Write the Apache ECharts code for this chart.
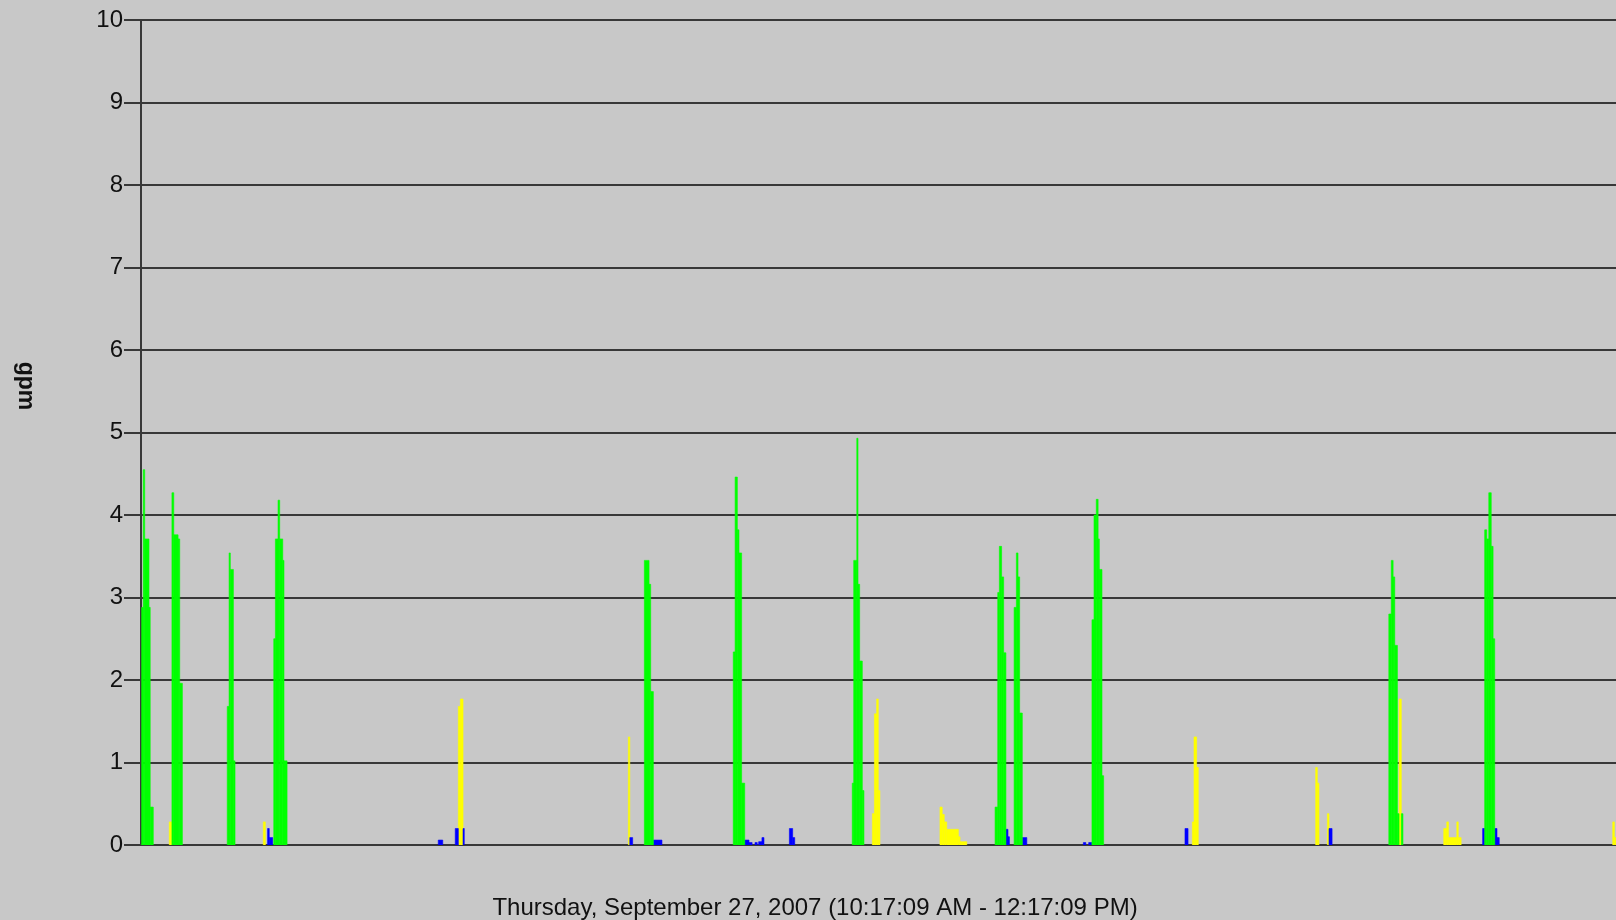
<!DOCTYPE html>
<html>
<head>
<meta charset="utf-8">
<title>gpm</title>
<script src="https://cdn.jsdelivr.net/npm/echarts@6/dist/echarts.min.js"></script>
<style>
  html, body { margin: 0; padding: 0; background: #c8c8c8; }
  #chart { width: 1616px; height: 920px; }
</style>
</head>
<body>
<div id="chart"></div>
<script>
// flow samples: [start sec, end sec, gpm], seconds after 10:17:09 AM
var greenFlow = [
  [3, 11, 2.88], [11, 18, 4.55], [18, 39, 3.71], [39, 45, 2.88], [45, 60, 0.46],
  [151, 160, 4.27], [160, 181, 3.76], [181, 189, 3.71], [189, 202, 1.96],
  [421, 430, 1.68], [430, 436, 3.54], [436, 451, 3.34], [451, 459, 1.02],
  [648, 656, 2.5], [656, 669, 3.71], [669, 677, 4.18], [677, 692, 3.71], [692, 698, 3.45], [698, 713, 1.02],
  [2457, 2480, 3.45], [2480, 2488, 3.16], [2488, 2501, 1.86],
  [2891, 2900, 2.34], [2900, 2911, 4.46], [2911, 2919, 3.82], [2919, 2932, 3.54], [2932, 2947, 0.75],
  [3472, 3479, 0.75], [3479, 3494, 3.45], [3494, 3500, 4.93], [3500, 3508, 3.16], [3508, 3521, 2.23], [3521, 3529, 0.66],
  [4169, 4182, 0.46], [4182, 4190, 3.06], [4190, 4201, 3.62], [4201, 4211, 3.25], [4211, 4222, 2.33],
  [4262, 4273, 2.88], [4273, 4281, 3.54], [4281, 4289, 3.25], [4289, 4302, 1.6],
  [4642, 4652, 2.73], [4652, 4663, 4.0], [4663, 4672, 4.19], [4672, 4678, 3.71], [4678, 4691, 3.34], [4691, 4699, 0.84],
  [6091, 6103, 2.8], [6103, 6112, 3.45], [6112, 6120, 3.25], [6120, 6133, 2.42], [6133, 6141, 0.38], [6152, 6160, 0.38],
  [6559, 6569, 3.82], [6569, 6579, 3.71], [6579, 6591, 4.27], [6591, 6600, 3.62], [6600, 6608, 2.5]
];
var yellowFlow = [
  [138, 151, 0.28],
  [597, 607, 0.28],
  [1549, 1559, 1.68], [1559, 1572, 1.77],
  [2379, 2386, 1.31],
  [3570, 3580, 0.38], [3580, 3591, 1.59], [3591, 3599, 1.77], [3599, 3607, 0.66],
  [3900, 3911, 0.46], [3911, 3921, 0.37], [3921, 3933, 0.28], [3933, 3990, 0.19], [3990, 3998, 0.1], [3998, 4031, 0.04],
  [5132, 5140, 0.28], [5140, 5153, 1.31], [5153, 5161, 0.94],
  [5734, 5742, 0.94], [5742, 5750, 0.75], [5791, 5799, 0.38],
  [6141, 6152, 1.77],
  [6359, 6374, 0.2], [6374, 6382, 0.28], [6382, 6423, 0.09], [6423, 6430, 0.28], [6430, 6444, 0.09],
  [7184, 7192, 0.28], [7192, 7200, 0.09]
];
var blueFlow = [
  [618, 626, 0.2], [626, 643, 0.09],
  [1451, 1473, 0.06],
  [1534, 1549, 0.2], [1572, 1578, 0.2],
  [2386, 2400, 0.09],
  [2501, 2543, 0.06],
  [2947, 2968, 0.06], [2968, 2983, 0.03], [2997, 3008, 0.03], [3015, 3031, 0.04], [3031, 3041, 0.09],
  [3165, 3181, 0.2], [3181, 3191, 0.09],
  [4222, 4232, 0.19], [4232, 4239, 0.1],
  [4302, 4324, 0.09],
  [4600, 4612, 0.03], [4626, 4641, 0.03],
  [5096, 5111, 0.2],
  [5799, 5814, 0.2],
  [6549, 6559, 0.2], [6608, 6619, 0.2], [6619, 6630, 0.09]
];
var timeSpan = [0, 7200];
var gpmTicks = [0, 10, 1];
var xTitle = 'Thursday, September 27, 2007 (10:17:09 AM - 12:17:09 PM)';

var lineColor = '#383838';
var fontFamily = '"Liberation Sans", Arial, sans-serif';

function drawSample(params, api) {
  var top = api.coord([api.value(0), api.value(2)]);
  var bottom = api.coord([api.value(1), 0]);
  return {
    type: 'rect',
    shape: { x: top[0], y: top[1], width: bottom[0] - top[0], height: bottom[1] - top[1] },
    style: { fill: api.visual('color'), stroke: api.visual('color'), lineWidth: 0.6 }
  };
}

function flowSeries(name, data, color) {
  return {
    name: name,
    type: 'custom',
    renderItem: drawSample,
    clip: true,
    itemStyle: { color: color },
    dimensions: ['start', 'end', 'gpm'],
    encode: { x: [0, 1], y: 2 },
    data: data
  };
}

var chart = echarts.init(document.getElementById('chart'));
chart.setOption({
  backgroundColor: '#c8c8c8',
  animation: false,
  title: {
    text: xTitle,
    left: 815,
    top: 896,
    textAlign: 'center',
    padding: 0,
    textStyle: { fontFamily: fontFamily, fontSize: 24, fontWeight: 'normal', color: '#111' }
  },
  graphic: [{
    type: 'text',
    x: 25,
    y: 386,
    rotation: -Math.PI / 2,
    style: {
      text: 'gpm',
      fontFamily: fontFamily,
      fontSize: 23,
      fontWeight: 'bold',
      fill: '#111',
      textAlign: 'center',
      textVerticalAlign: 'middle'
    }
  }],
  grid: { left: 141, right: 0, top: 20, bottom: 75 },
  xAxis: {
    type: 'value',
    min: timeSpan[0],
    max: timeSpan[1],
    show: false
  },
  yAxis: {
    type: 'value',
    min: gpmTicks[0],
    max: gpmTicks[1],
    interval: gpmTicks[2],
    axisLine: { show: true, lineStyle: { color: lineColor, width: 2 } },
    axisTick: { show: true, length: 17, lineStyle: { color: lineColor, width: 2 } },
    axisLabel: { margin: 18, fontFamily: fontFamily, fontSize: 24, color: '#111' },
    splitLine: { show: true, lineStyle: { color: lineColor, width: 2 } }
  },
  series: [
    flowSeries('yellow', yellowFlow, '#ffff00'),
    flowSeries('blue', blueFlow, '#0000ff'),
    flowSeries('green', greenFlow, '#00ff00')
  ]
});
</script>
</body>
</html>
